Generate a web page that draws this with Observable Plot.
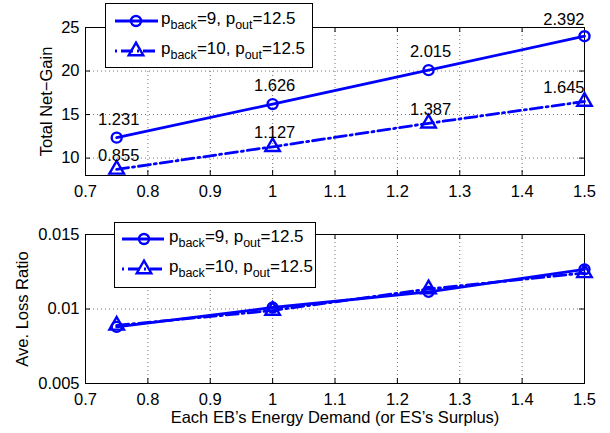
<!DOCTYPE html>
<html>
<head>
<meta charset="utf-8">
<script src="https://cdn.jsdelivr.net/npm/d3@7"></script>
<script src="https://cdn.jsdelivr.net/npm/@observablehq/plot@0.6"></script>
<style>
  html, body { margin: 0; padding: 0; background: #fff; }
  #wrap { position: relative; width: 610px; height: 433px; font-family: "Liberation Sans", Arial, Helvetica, sans-serif; }
  .panel { position: absolute; left: 0; }
  .legend { position: absolute; box-sizing: border-box; border: 1px solid #000; background: #fff; }
  .legend svg { position: absolute; left: 0; top: 0; overflow: visible; }
  .legend .lab { position: absolute; font-size: 17px; line-height: 17px; white-space: nowrap; color: #000; }
  .legend sub { font-size: 12.5px; vertical-align: -5px; line-height: 0; }
</style>
</head>
<body>
<div id="wrap"></div>
<script>
// ---------- data ----------
const xValues = [0.75, 1, 1.25, 1.5];
const gainBack9 = [12.35, 16.2, 20.1, 24.0];
const gainBack10 = [8.7, 11.3, 14.0, 16.5];
const gainLabelsBack9 = ["1.231", "1.626", "2.015", "2.392"];
const gainLabelsBack10 = ["0.855", "1.127", "1.387", "1.645"];
const lossBack9 = [0.0088, 0.0101, 0.01115, 0.01266];
const lossBack10 = [0.0089, 0.0099, 0.01134, 0.01242];
const seriesNames = [
  ["p", "back", "=9, p", "out", "=12.5"],
  ["p", "back", "=10, p", "out", "=12.5"]
];
const xTicks = [0.7, 0.8, 0.9, 1, 1.1, 1.2, 1.3, 1.4, 1.5];
const gainTicks = [10, 15, 20, 25];
const lossTicks = [0.005, 0.01, 0.015];
const xLabel = "Each EB\u2019s Energy Demand (or ES\u2019s Surplus)";
const gainLabel = "Total Net\u2212Gain";
const lossLabel = "Ave. Loss Ratio";

// ---------- styling ----------
const BLUE = "#0000ff";
const DASHDOT = "12,4,2,4";
const FONT = "'Liberation Sans', Arial, Helvetica, sans-serif";
const FS = 16.5;
const W = 610, ML = 85, MR = 26;

function rows(ys, labels) {
  return xValues.map((x, i) => ({x, y: ys[i], label: labels ? labels[i] : null, last: i === xValues.length - 1}));
}

function panel({ys1, ys2, labels1, labels2, yDomain, yTicks, height, marginTop, marginBottom, yLabel, yLabelDx, xLabelText}) {
  const d1 = rows(ys1, labels1), d2 = rows(ys2, labels2);
  const fh = height - marginTop - marginBottom;
  const fw = W - ML - MR;
  const tk = 5;
  const marks = [
    Plot.gridX(xTicks, {stroke: "#000", strokeOpacity: 0.55, strokeDasharray: "1,3"}),
    Plot.gridY(yTicks, {stroke: "#000", strokeOpacity: 0.55, strokeDasharray: "1,3"}),
    // inward ticks on all four sides
    Plot.ruleX(xTicks, {stroke: "#000", insetTop: fh - tk}),
    Plot.ruleX(xTicks, {stroke: "#000", insetBottom: fh - tk}),
    Plot.ruleY(yTicks, {stroke: "#000", insetRight: fw - tk}),
    Plot.ruleY(yTicks, {stroke: "#000", insetLeft: fw - tk}),
    Plot.frame({stroke: "#000"}),
    Plot.axisX(xTicks, {tickSize: 0, tickPadding: 10, tickFormat: d => String(d), fontSize: FS, label: null}),
    Plot.axisY(yTicks, {tickSize: 0, tickPadding: 6, tickFormat: d => String(d), fontSize: FS, label: null}),
    Plot.line(d2, {x: "x", y: "y", stroke: BLUE, strokeWidth: 2.8, strokeDasharray: DASHDOT}),
    Plot.line(d1, {x: "x", y: "y", stroke: BLUE, strokeWidth: 2.8}),
    Plot.dot(d1, {x: "x", y: "y", r: 5, stroke: BLUE, strokeWidth: 2.4, fill: "none"}),
    Plot.dot(d2, {x: "x", y: "y", r: 5.4, symbol: "triangle", stroke: BLUE, strokeWidth: 2.4, fill: "none"}),
    Plot.text([yLabel], {frameAnchor: "left", dx: yLabelDx, rotate: -90, textAnchor: "middle", lineAnchor: "middle", fontSize: FS, fill: "#000", text: d => d})
  ];
  if (labels1) {
    marks.push(
      Plot.text(d1.filter(d => !d.last), {x: "x", y: "y", text: "label", dx: 2, dy: -18, fontSize: FS, fill: "#000"}),
      Plot.text(d1.filter(d => d.last), {x: "x", y: "y", text: "label", dy: -16, textAnchor: "end", fontSize: FS, fill: "#000"}),
      Plot.text(d2.filter(d => !d.last), {x: "x", y: "y", text: "label", dx: 2, dy: -14, fontSize: FS, fill: "#000"}),
      Plot.text(d2.filter(d => d.last), {x: "x", y: "y", text: "label", dy: -14, textAnchor: "end", fontSize: FS, fill: "#000"})
    );
  }
  if (xLabelText) {
    marks.push(Plot.text([xLabelText], {frameAnchor: "bottom", dy: 34, lineAnchor: "middle", fontSize: FS, fill: "#000", text: d => d}));
  }
  return Plot.plot({
    width: W, height, marginLeft: ML, marginRight: MR, marginTop, marginBottom,
    x: {domain: [0.7, 1.5]},
    y: {domain: yDomain},
    style: {fontFamily: FONT, fontSize: FS + "px", color: "#000", background: "#fff", overflow: "visible"},
    marks
  });
}

function legend({left, top, width, height, rowY, lineX0, lineX1, markX, textX}) {
  const box = document.createElement("div");
  box.className = "legend";
  Object.assign(box.style, {left: left + "px", top: top + "px", width: width + "px", height: height + "px"});
  const ns = "http://www.w3.org/2000/svg";
  const svg = document.createElementNS(ns, "svg");
  svg.setAttribute("width", width); svg.setAttribute("height", height);
  seriesNames.forEach((parts, i) => {
    const y = rowY[i];
    const ln = document.createElementNS(ns, "line");
    ln.setAttribute("x1", lineX0); ln.setAttribute("x2", lineX1);
    ln.setAttribute("y1", y); ln.setAttribute("y2", y);
    ln.setAttribute("stroke", BLUE); ln.setAttribute("stroke-width", 2.8);
    if (i === 1) ln.setAttribute("stroke-dasharray", "2,4,12,4");
    svg.appendChild(ln);
    const mk = document.createElementNS(ns, "path");
    const sym = i === 0 ? d3.symbolCircle : d3.symbolTriangle;
    const size = i === 0 ? Math.PI * 25 : Math.PI * 5.4 * 5.4;
    mk.setAttribute("d", d3.symbol(sym, size)());
    mk.setAttribute("transform", `translate(${markX},${y})`);
    mk.setAttribute("fill", "none"); mk.setAttribute("stroke", BLUE); mk.setAttribute("stroke-width", 2.4);
    svg.appendChild(mk);
    const lab = document.createElement("div");
    lab.className = "lab";
    lab.style.left = textX + "px";
    lab.style.top = (y - 11) + "px";
    lab.innerHTML = `${parts[0]}<sub>${parts[1]}</sub>${parts[2]}<sub>${parts[3]}</sub>${parts[4]}`;
    box.appendChild(lab);
  });
  box.insertBefore(svg, box.firstChild);
  return box;
}

(function () {
  const wrap = document.getElementById("wrap");

  const topPlot = panel({
    ys1: gainBack9, ys2: gainBack10, labels1: gainLabelsBack9, labels2: gainLabelsBack10,
    yDomain: [8, 25], yTicks: gainTicks, height: 205, marginTop: 27, marginBottom: 30,
    yLabel: gainLabel, yLabelDx: -39
  });
  topPlot.classList.add("panel"); topPlot.style.top = "0px";
  wrap.appendChild(topPlot);

  const bottomPlot = panel({
    ys1: lossBack9, ys2: lossBack10, yDomain: [0.005, 0.015], yTicks: lossTicks,
    height: 228, marginTop: 29, marginBottom: 50, yLabel: lossLabel, yLabelDx: -62.5, xLabelText: xLabel
  });
  bottomPlot.classList.add("panel"); bottomPlot.style.top = "205px";
  wrap.appendChild(bottomPlot);

  wrap.appendChild(legend({left: 105, top: 3, width: 208, height: 65, rowY: [17, 47], lineX0: 9, lineX1: 52, markX: 30, textX: 55}));
  wrap.appendChild(legend({left: 114, top: 222, width: 202, height: 66, rowY: [16, 46], lineX0: 7, lineX1: 49, markX: 29, textX: 54}));
})();
</script>
</body>
</html>
